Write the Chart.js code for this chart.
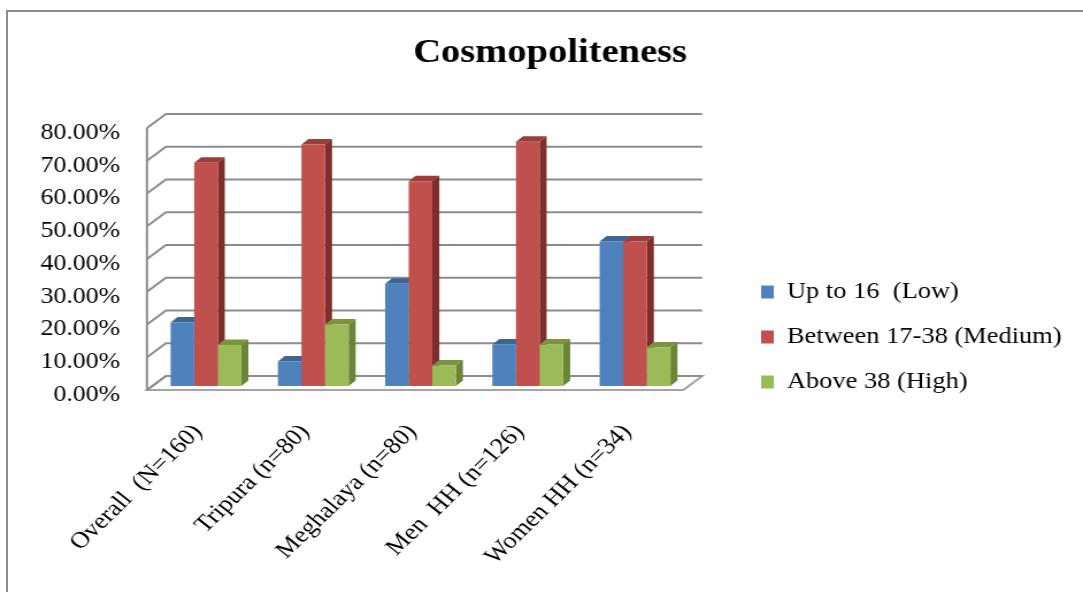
<!DOCTYPE html>
<html>
<head>
<meta charset="utf-8">
<title>Cosmopoliteness</title>
<script src="https://cdn.jsdelivr.net/npm/chart.js@4/dist/chart.umd.min.js"></script>
<style>
  html, body { margin: 0; padding: 0; background: #fff; width: 1083px; height: 592px; overflow: hidden; }
  #frame { position: absolute; left: 6px; top: 10px; width: 2000px; height: 2000px;
           border-left: 2px solid #8c8c8c; border-top: 2px solid #8c8c8c; }
  /* the chart is drawn on a narrower canvas and widened to the page width */
  #wrap { position: absolute; left: 0; top: 0; width: 942px; height: 592px;
          transform: scaleX(1.14968); transform-origin: 0 0; }
</style>
</head>
<body>
<div id="frame"></div>
<div id="wrap"><canvas id="chart"></canvas></div>
<script>
// ---- data ----
const categories = ['Overall  (N=160)', 'Tripura (n=80)', 'Meghalaya (n=80)', 'Men  HH (n=126)', 'Women HH (n=34)'];
const seriesNames = ['Up to 16  (Low)', 'Between 17-38 (Medium)', 'Above 38 (High)'];
const lowValues = [19.38, 7.50, 31.25, 12.70, 44.12];
const mediumValues = [68.13, 73.75, 62.50, 74.60, 44.12];
const highValues = [12.50, 18.75, 6.25, 12.70, 11.76];
const yTicks = [0, 10, 20, 30, 40, 50, 60, 70, 80];

// ---- layout (canvas pixels) ----
const FONT = "'Liberation Serif', 'Times New Roman', serif";
const CW = 942, CH = 592;
const PLOT_LEFT = 132.5, PLOT_RIGHT = 599, PLOT_BOTTOM = 386;
const TITLE_CENTER = 478.5;
const FRONT = { dx: -4.7, dy: 4 };     // front edge of the floor / side wall
const BACK = { dx: 11.8, dy: -10 };    // back wall
const DEPTH = { dx: 6.1, dy: -5.5 };   // bar depth
const LEGEND_BOX_X = 662, LEGEND_ITEM_Y = 280.5, LEGEND_PAD = 22;

const padL = 2 * TITLE_CENTER - CW;   // right padding is 0
const legendSpace = CW - PLOT_RIGHT;

function polygon(ctx, pts) {
  ctx.beginPath();
  ctx.moveTo(pts[0][0], pts[0][1]);
  for (let k = 1; k < pts.length; k++) ctx.lineTo(pts[k][0], pts[k][1]);
  ctx.closePath();
  ctx.fill();
}

const threeD = {
  id: 'threeD',
  beforeLayout(chart) {
    const lg = chart.legend;
    if (lg && !lg._fixedFit) {
      const fit = lg.fit.bind(lg);
      lg.fit = function () { fit(); this.width = legendSpace; };
      lg._fixedFit = true;
    }
  },
  beforeDraw(chart) {
    const lg = chart.legend;
    if (!lg) return;
    lg.left = LEGEND_BOX_X - LEGEND_PAD;
    lg.right = chart.width;
    lg.top = LEGEND_ITEM_Y - LEGEND_PAD;
    lg.bottom = chart.height;
  },
  beforeDatasetsDraw(chart) {
    const ctx = chart.ctx;
    const ys = chart.scales.y;
    const x0 = chart.chartArea.left, x1 = chart.chartArea.right;
    const yb = ys.getPixelForValue(0);
    const yt = ys.getPixelForValue(yTicks[yTicks.length - 1]);
    ctx.save();
    // floor
    ctx.beginPath();
    ctx.moveTo(x0 + FRONT.dx, yb + FRONT.dy);
    ctx.lineTo(x1 + FRONT.dx, yb + FRONT.dy);
    ctx.lineTo(x1 + BACK.dx, yb + BACK.dy);
    ctx.lineTo(x0 + BACK.dx, yb + BACK.dy);
    ctx.closePath();
    ctx.fillStyle = '#ffffff';
    ctx.fill();
    ctx.strokeStyle = '#a3a3a3';
    ctx.lineWidth = 2;
    ctx.stroke();
    // gridlines on side wall and back wall
    ctx.strokeStyle = '#8c8c8c';
    ctx.lineWidth = 2;
    ctx.lineJoin = 'miter';
    yTicks.forEach(v => {
      const y = ys.getPixelForValue(v);
      ctx.beginPath();
      ctx.moveTo(x0 + FRONT.dx, y + FRONT.dy);
      ctx.lineTo(x0 + BACK.dx, y + BACK.dy);
      ctx.lineTo(x1 + BACK.dx, y + BACK.dy);
      ctx.stroke();
    });
    ctx.beginPath();
    ctx.moveTo(x0 + FRONT.dx, yt + FRONT.dy);
    ctx.lineTo(x0 + FRONT.dx, yb + FRONT.dy);
    ctx.stroke();
    // bar tops and sides; front faces are drawn by the bar controller
    for (let j = 0; j < categories.length; j++) {
      chart.data.datasets.forEach((ds, i) => {
        const bar = chart.getDatasetMeta(i).data[j];
        if (!bar) return;
        const { x, y, base, width } = bar.getProps(['x', 'y', 'base', 'width'], true);
        const xl = x - width / 2, xr = x + width / 2;
        ctx.fillStyle = ds.topColor;
        polygon(ctx, [[xl, y], [xr, y], [xr + DEPTH.dx, y + DEPTH.dy], [xl + DEPTH.dx, y + DEPTH.dy]]);
        ctx.fillStyle = ds.sideColor;
        polygon(ctx, [[xr, y], [xr + DEPTH.dx, y + DEPTH.dy], [xr + DEPTH.dx, base + DEPTH.dy], [xr, base]]);
      });
    }
    ctx.restore();
  }
};

new Chart(document.getElementById('chart'), {
  type: 'bar',
  data: {
    labels: categories,
    datasets: [
      { label: seriesNames[0], data: lowValues, backgroundColor: '#4F81BD', topColor: '#3C6494', sideColor: '#385D8A' },
      { label: seriesNames[1], data: mediumValues, backgroundColor: '#C0504D', topColor: '#9D3D3A', sideColor: '#7E2F2D' },
      { label: seriesNames[2], data: highValues, backgroundColor: '#9BBB59', topColor: '#7A9440', sideColor: '#6B8536' }
    ]
  },
  options: {
    responsive: true,
    maintainAspectRatio: false,
    animation: false,
    events: [],
    layout: { padding: { left: padL, right: 0, top: 0, bottom: 0 } },
    datasets: { bar: { barPercentage: 1, categoryPercentage: 0.66, borderWidth: 0 } },
    scales: {
      x: {
        grid: { display: false, drawTicks: false },
        border: { display: false },
        ticks: {
          autoSkip: false, minRotation: 48, maxRotation: 48, padding: 33, labelOffset: -7,
          color: '#000', font: { family: FONT, size: 23 }
        },
        afterFit(scale) { scale.height = CH - PLOT_BOTTOM; }
      },
      y: {
        min: yTicks[0], max: yTicks[yTicks.length - 1],
        grid: { display: false, drawTicks: false },
        border: { display: false },
        afterBuildTicks(scale) { scale.ticks = yTicks.map(v => ({ value: v })); },
        ticks: {
          padding: 28, labelOffset: 9,
          color: '#000', font: { family: FONT, size: 22.5 },
          callback: v => v.toFixed(2) + '%'
        },
        afterFit(scale) { scale.width = PLOT_LEFT - padL; }
      }
    },
    plugins: {
      title: {
        display: true, text: 'Cosmopoliteness', color: '#000',
        font: { family: FONT, size: 33.5, weight: 'bold', lineHeight: 1.2 },
        padding: { top: 33, bottom: 50.8 }
      },
      legend: {
        display: true, position: 'right', align: 'start',
        labels: {
          boxWidth: 11, boxHeight: 13, padding: LEGEND_PAD,
          color: '#000', font: { family: FONT, size: 23 }
        }
      },
      tooltip: { enabled: false }
    }
  },
  plugins: [threeD]
});
</script>
</body>
</html>
